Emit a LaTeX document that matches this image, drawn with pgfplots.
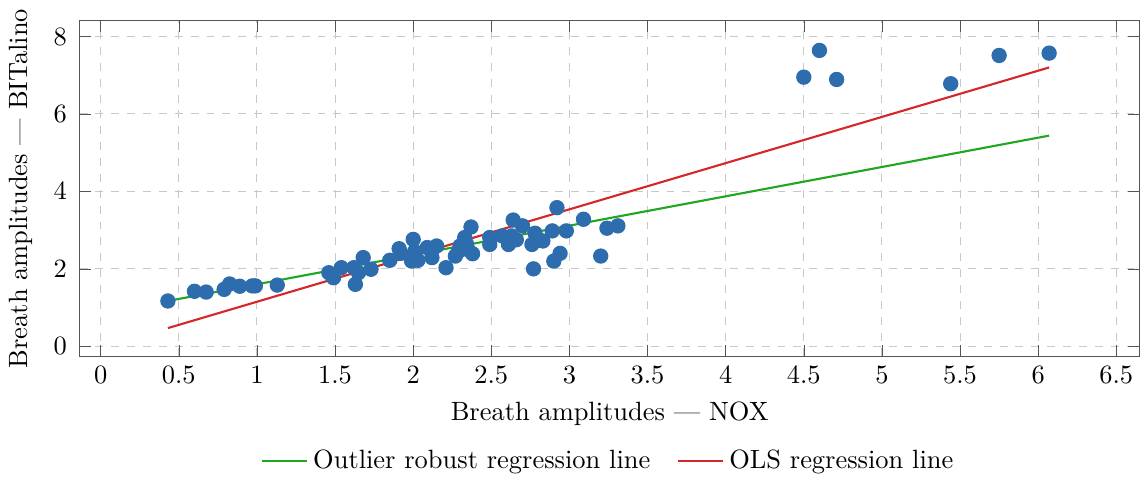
\documentclass[border=0pt]{standalone}
\usepackage{pgfplots}
\pgfplotsset{compat=1.18}
\definecolor{PtBlue}{HTML}{2E6DAD}
\definecolor{RobGreen}{HTML}{1FA81F}
\definecolor{OlsRed}{HTML}{D62728}
\definecolor{GridGray}{HTML}{C8C8C8}
\definecolor{AxisGray}{HTML}{555555}

\begin{document}
\begin{tikzpicture}
\begin{axis}[
  width=401pt, height=127pt,
  scale only axis,
  xmin=-0.135, xmax=6.65,
  ymin=-0.26, ymax=8.41,
  xtick={0,0.5,1,1.5,2,2.5,3,3.5,4,4.5,5,5.5,6,6.5},
  xticklabels={0,0.5,1,1.5,2,2.5,3,3.5,4,4.5,5,5.5,6,6.5},
  ytick={0,2,4,6,8},
  yticklabel style={xshift=-1.3pt},
  ylabel style={yshift=1.2pt},
  grid=major,
  grid style={draw=GridGray,dashed},
  axis line style={draw=AxisGray},
  tick style={draw=AxisGray},
  xlabel={Breath amplitudes --- NOX},
  ylabel={Breath amplitudes --- BITalino},
  legend style={at={(0.5,-0.245)},anchor=north,draw=none,legend columns=2,
    /tikz/every even column/.append style={column sep=8pt}},
  legend cell align=left,
]
\addplot[only marks,mark=*,mark size=2.7pt,draw=PtBlue,fill=PtBlue,forget plot]
  coordinates {
  (0.43,1.17) (0.60,1.42) (0.675,1.40) (0.79,1.47) (0.825,1.61) (0.89,1.55)
  (0.97,1.56) (0.99,1.56) (1.13,1.58)
  (1.46,1.90) (1.49,1.77) (1.54,2.03) (1.62,2.03) (1.63,1.60) (1.65,1.90)
  (1.68,2.29) (1.73,1.99)
  (1.85,2.22) (1.91,2.52) (1.92,2.40) (2.00,2.76) (1.99,2.20) (2.03,2.22)
  (2.01,2.45) (2.12,2.29) (2.15,2.59) (2.12,2.49) (2.09,2.55) (2.21,2.03)
  (2.27,2.33) (2.30,2.59) (2.33,2.81) (2.37,3.08) (2.38,2.39) (2.34,2.65)
  (2.29,2.45) (2.35,2.50)
  (2.49,2.81) (2.49,2.63) (2.57,2.85) (2.61,2.63) (2.64,3.26) (2.63,2.85)
  (2.66,2.75) (2.70,3.11) (2.76,2.63) (2.78,2.92) (2.77,2.00) (2.83,2.72)
  (2.89,2.98) (2.90,2.20) (2.94,2.40) (2.92,3.58) (2.98,2.98)
  (3.09,3.28) (3.20,2.33) (3.24,3.05) (3.31,3.11)
  (4.50,6.95) (4.60,7.64) (4.71,6.89) (5.44,6.78) (5.75,7.51) (6.07,7.57)
  };
\addplot[draw=RobGreen,line width=0.8pt] coordinates {(0.43,1.17) (6.07,5.44)};
\addlegendentry{Outlier robust regression line}
\addplot[draw=OlsRed,line width=0.8pt] coordinates {(0.43,0.47) (6.07,7.20)};
\addlegendentry{OLS regression line}
\end{axis}
\end{tikzpicture}
\end{document}
